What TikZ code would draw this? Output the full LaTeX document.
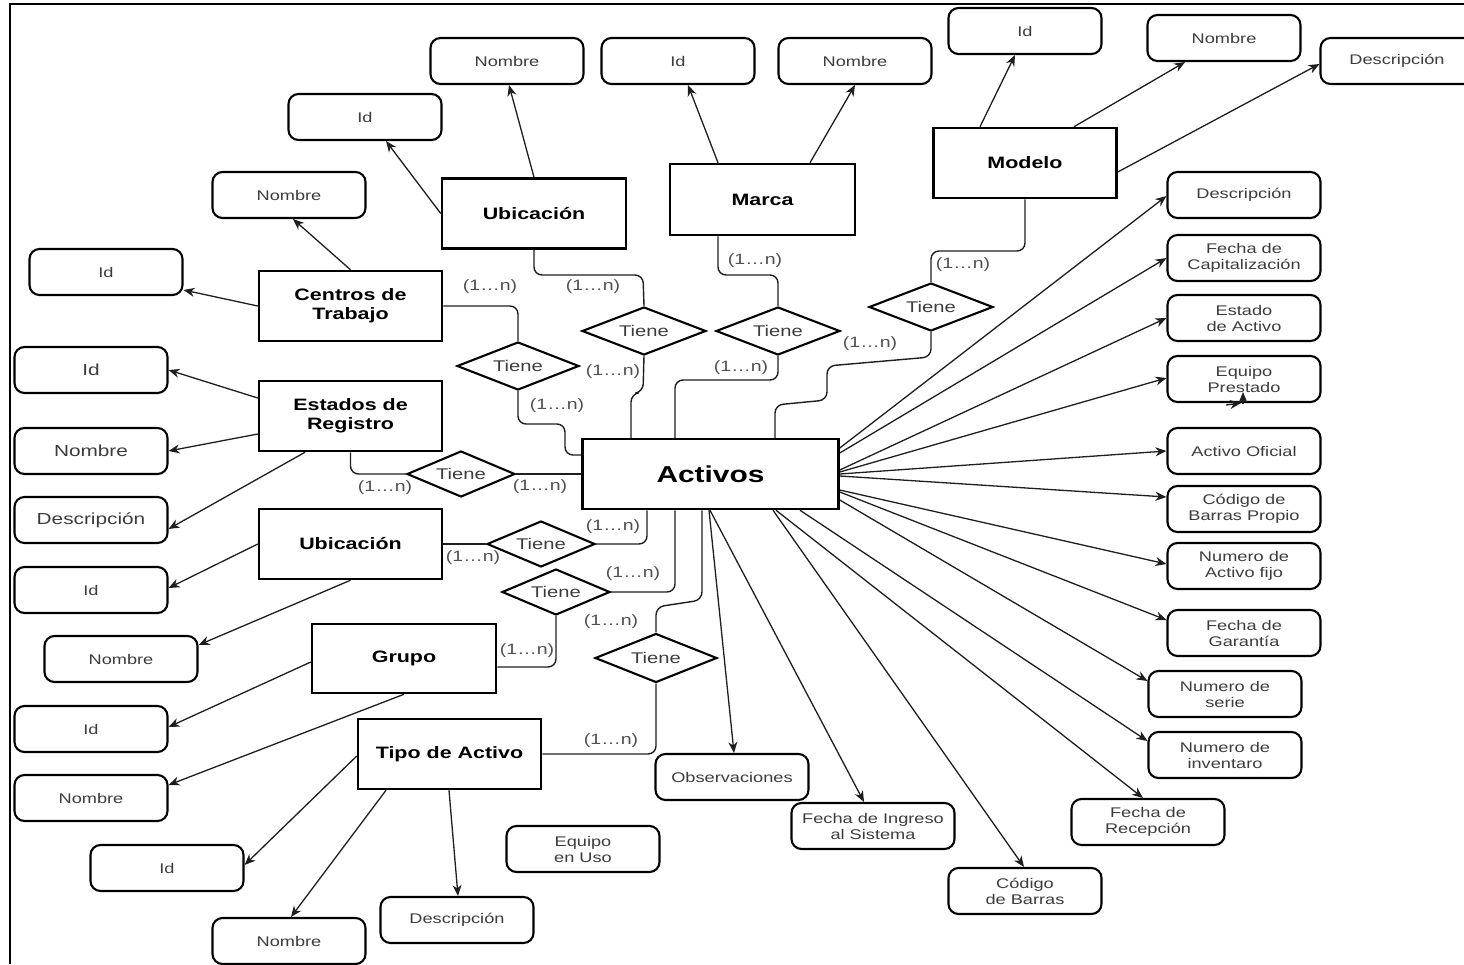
\documentclass[tikz,border=0pt]{standalone}
\usepackage{fontspec}
\setmainfont[FakeStretch=1.3]{Liberation Sans}
\usetikzlibrary{shapes.geometric,arrows.meta,calc}
\definecolor{txt}{RGB}{60,60,60}
\definecolor{lbl}{RGB}{80,80,80}
\definecolor{ln}{RGB}{30,30,30}
\begin{document}
\begin{tikzpicture}[x=1pt,y=-1pt,
 attr/.style={draw=black, line width=2.1pt, rounded corners=10pt, minimum width=153pt, minimum height=46pt, inner sep=0pt, align=center, text=txt, font=\fontsize{14}{16}\selectfont},
 attrL/.style={attr, font=\fontsize{16}{18}\selectfont},
 ent/.style={draw=black, line width=2.5pt, minimum width=183pt, minimum height=70pt, inner sep=0pt, align=center, font=\bfseries\fontsize{16.5}{19}\selectfont},
 rel/.style={draw=black, line width=2.1pt, diamond, aspect=2.5, minimum width=124pt, minimum height=48pt, inner sep=0pt, text=txt, font=\fontsize{15.5}{17}\selectfont},
 relS/.style={rel, minimum width=108pt, minimum height=46pt},
 card/.style={text=lbl, inner sep=0pt, font=\fontsize{15}{17}\selectfont},
 con/.style={draw=ln, line width=1.4pt, rounded corners=8pt},
 arr/.style={draw=ln, line width=1.3pt, -{Stealth[length=11pt,width=9pt,inset=3.5pt]}},
]
\useasboundingbox (0,0) rectangle (1464,964);
\draw[line width=1.6pt] (10,964) -- (10,4) -- (1464,4);

% entities
\node[ent, minimum width=184pt] (UbicT) at (534,213.5) {Ubicación};
\node[ent, minimum width=185pt, minimum height=71pt] (Marca) at (762.5,199.5) {Marca};
\node[ent] (Modelo) at (1025,163) {Modelo};
\node[ent] (Centros) at (350.5,306) {Centros de\\Trabajo};
\node[ent] (Estados) at (350.5,416) {Estados de\\Registro};
\node[ent] (UbicL) at (350.5,544) {Ubicación};
\node[ent, minimum width=184pt, minimum height=69pt] (Grupo) at (404,658.5) {Grupo};
\node[ent] (Tipo) at (449.5,754) {Tipo de Activo};
\node[ent, minimum width=256pt, font=\bfseries\fontsize{23}{26}\selectfont] (Activos) at (710.5,474) {Activos};

% relationships
\node[rel, minimum width=122pt] (D1) at (518,366) {Tiene};
\node[rel] (D2) at (644,331) {Tiene};
\node[rel] (D3) at (778,331) {Tiene};
\node[rel] (D4) at (931,307) {Tiene};
\node[relS] (D5) at (461,474) {Tiene};
\node[relS] (D6) at (541,544) {Tiene};
\node[relS] (D7) at (556,592) {Tiene};
\node[rel, minimum width=122pt, minimum height=49pt] (D8) at (656,658) {Tiene};

% attributes
\node[attr] (uNom) at (507,61) {Nombre};
\node[attr] (mId) at (678,61) {Id};
\node[attr] (mNom) at (855,61) {Nombre};
\node[attr] (uId) at (365,117) {Id};
\node[attr] (cNom) at (289,195) {Nombre};
\node[attr] (cId) at (106,272) {Id};
\node[attr] (moId) at (1025,31) {Id};
\node[attr] (moNom) at (1224,38) {Nombre};
\node[attr] (moDesc) at (1397,61) {Descripción};
\node[attr] (aDesc) at (1244,195) {Descripción};
\node[attr] (aCap) at (1244,258) {Fecha de\\Capitalización};
\node[attr] (aEst) at (1244,318) {Estado\\de Activo};
\node[attr] (aEqp) at (1244,379) {Equipo\\Prestado};
\node[attr] (aOfi) at (1244,451) {Activo Oficial};
\node[attr] (aCod) at (1244,509) {Código de\\Barras Propio};
\node[attr] (aNaf) at (1244,566) {Numero de\\Activo fijo};
\node[attr] (aGar) at (1244,633) {Fecha de\\Garantía};
\node[attr] (aSer) at (1225,694) {Numero de\\serie};
\node[attr] (aInv) at (1225,755) {Numero de\\inventaro};
\node[attr] (aRec) at (1148,822) {Fecha de\\Recepción};
\node[attr] (aCb) at (1025,891) {Código\\de Barras};
\node[attr, minimum width=163pt] (aIng) at (873,826) {Fecha de Ingreso\\al Sistema};
\node[attr] (aObs) at (732,777) {Observaciones};
\node[attr] (eqUso) at (583,849) {Equipo\\en Uso};
\node[attrL] (eId) at (91,370) {Id};
\node[attrL] (eNom) at (91,451) {Nombre};
\node[attrL] (eDesc) at (91,520) {Descripción};
\node[attr] (ulId) at (91,590) {Id};
\node[attr] (ulNom) at (121,659) {Nombre};
\node[attr] (gId) at (91,729) {Id};
\node[attr] (gNom) at (91,798) {Nombre};
\node[attr] (tId) at (167,868) {Id};
\node[attr] (tNom) at (289,941) {Nombre};
\node[attr] (tDesc) at (457,920) {Descripción};

% relationship connectors
\draw[con] (Centros.east) -| (D1.north);
\draw[con] (D1.south) -- (518,424) -- (565,424) -- (565,455) -- (Activos.west |- 0,455);
\draw[con] (UbicT.south) -- (534,275) -- (643,275) -- (D2.north);
\draw[con] (D2.south) -- (643,392) -- (631,394) -- (Activos.north -| 631,0);
\draw[con] (Marca.south -| 718,0) -- (718,275) -- (778,275) -- (D3.north);
\draw[con] (D3.south) -- (778,380) -- (675,380) -- (Activos.north -| 675,0);
\draw[con] (Modelo.south) -- (1025,251) -- (931,251) -- (D4.north);
\draw[con] (D4.south) -- (931,357) -- (827,366) -- (827,400) -- (775,405) -- (Activos.north -| 775,0);
\draw[con] (Estados.south) |- (D5.west);
\draw[con] (D5.east) -- (Activos.west);
\draw[con] (UbicL.east) -- (D6.west);
\draw[con] (D6.east) -| (Activos.south -| 647,0);
\draw[con] (D7.east) -| (Activos.south -| 675,0);
\draw[con] (D7.south) |- (Grupo.east |- 0,667);
\draw[con] (D8.north) -- (656,607) -- (702,600) -- (Activos.south -| 702,0);
\draw[con] (D8.south) |- (Tipo.east);

% cardinalities
\node[card] (l1) at (490,287) {(1…n)};
\node[card] (l2) at (593,287) {(1…n)};
\node[card] (l3) at (755,261) {(1…n)};
\node[card] (l4) at (963,265) {(1…n)};
\node[card] (l5) at (613,372) {(1…n)};
\node[card] (l6) at (557,406) {(1…n)};
\node[card] (l7) at (741,368) {(1…n)};
\node[card] (l8) at (870,344) {(1…n)};
\node[card] (l9) at (385,488) {(1…n)};
\node[card] (l10) at (540,487) {(1…n)};
\node[card] (l11) at (473,558) {(1…n)};
\node[card] (l12) at (613,527) {(1…n)};
\node[card] (l13) at (633,574) {(1…n)};
\node[card] (l14) at (611,622) {(1…n)};
\node[card] (l15) at (527,651) {(1…n)};
\node[card] (l16) at (611,741) {(1…n)};

% attribute arrows
\draw[arr] (UbicT.north) -- (uNom.south -| 509,0);
\draw[arr] (UbicT.west) -- (uId.south -| 386,0);
\draw[arr] (Marca.north -| 718,0) -- (mId.south -| 688,0);
\draw[arr] (Marca.north -| 810,0) -- (mNom.south -| 855,0);
\draw[arr] (Modelo.north -| 980,0) -- (moId.south -| 1015,0);
\draw[arr] (Modelo.north -| 1074,0) -- (moNom.south -| 1185,0);
\draw[arr] (Modelo.east |- 0,172) -- (moDesc.west |- 0,64);
\draw[arr] (Centros.north) -- (cNom.south -| 293,0);
\draw[arr] (Centros.west) -- (cId.east |- 0,290);
\draw[arr] (Estados.west |- 0,398) -- (eId.east);
\draw[arr] (Estados.west |- 0,434) -- (eNom.east);
\draw[arr] (Estados.south -| 305,0) -- (eDesc.east |- 0,529);
\draw[arr] (UbicL.west) -- (ulId.east |- 0,588);
\draw[arr] (UbicL.south) -- (ulNom.east |- 0,645);
\draw[arr] (Grupo.west |- 0,662) -- (gId.east |- 0,727);
\draw[arr] (Grupo.south) -- (gNom.east |- 0,785);
\draw[arr] (Tipo.west |- 0,756) -- (tId.east |- 0,865);
\draw[arr] (Tipo.south -| 386,0) -- (tNom.north -| 291,0);
\draw[arr] (Tipo.south -| 449,0) -- (tDesc.north -| 458,0);

\draw[arr] (Activos.east |- 0,448) -- (aDesc.west |- 0,196);
\draw[arr] (Activos.east |- 0,453) -- (aCap.west |- 0,258);
\draw[arr] (Activos.east |- 0,470) -- (aEst.west |- 0,318);
\draw[arr] (Activos.east |- 0,472) -- (aEqp.west |- 0,378);
\draw[arr] (Activos.east |- 0,474) -- (aOfi.west);
\draw[arr] (Activos.east |- 0,476) -- (aCod.west |- 0,497);
\draw[arr] (Activos.east |- 0,490) -- (aNaf.west |- 0,564);
\draw[arr] (Activos.east |- 0,492) -- (aGar.west |- 0,620);
\draw[arr] (Activos.east |- 0,500) -- (aSer.west |- 0,681);
\draw[arr] (Activos.south -| 800,0) -- (aInv.west |- 0,741);
\draw[arr] (Activos.south -| 776,0) -- (aRec.north -| 1143,0);
\draw[arr] (Activos.south -| 773,0) -- (aCb.north -| 1024,0);
\draw[arr] (Activos.south -| 710,0) -- (aIng.north -| 864,0);
\draw[arr] (Activos.south -| 709,0) -- (aObs.north -| 734,0);

% stray arrowheads at Equipo Prestado
\draw[arr] ($(aEqp.south)+(-18,2)$) -- ($(aEqp.south)+(-3,0)$);
\draw[arr] ($(aEqp.south)+(-1,1)$) -- ($(aEqp.south)+(-1,-11)$);
\end{tikzpicture}
\end{document}
